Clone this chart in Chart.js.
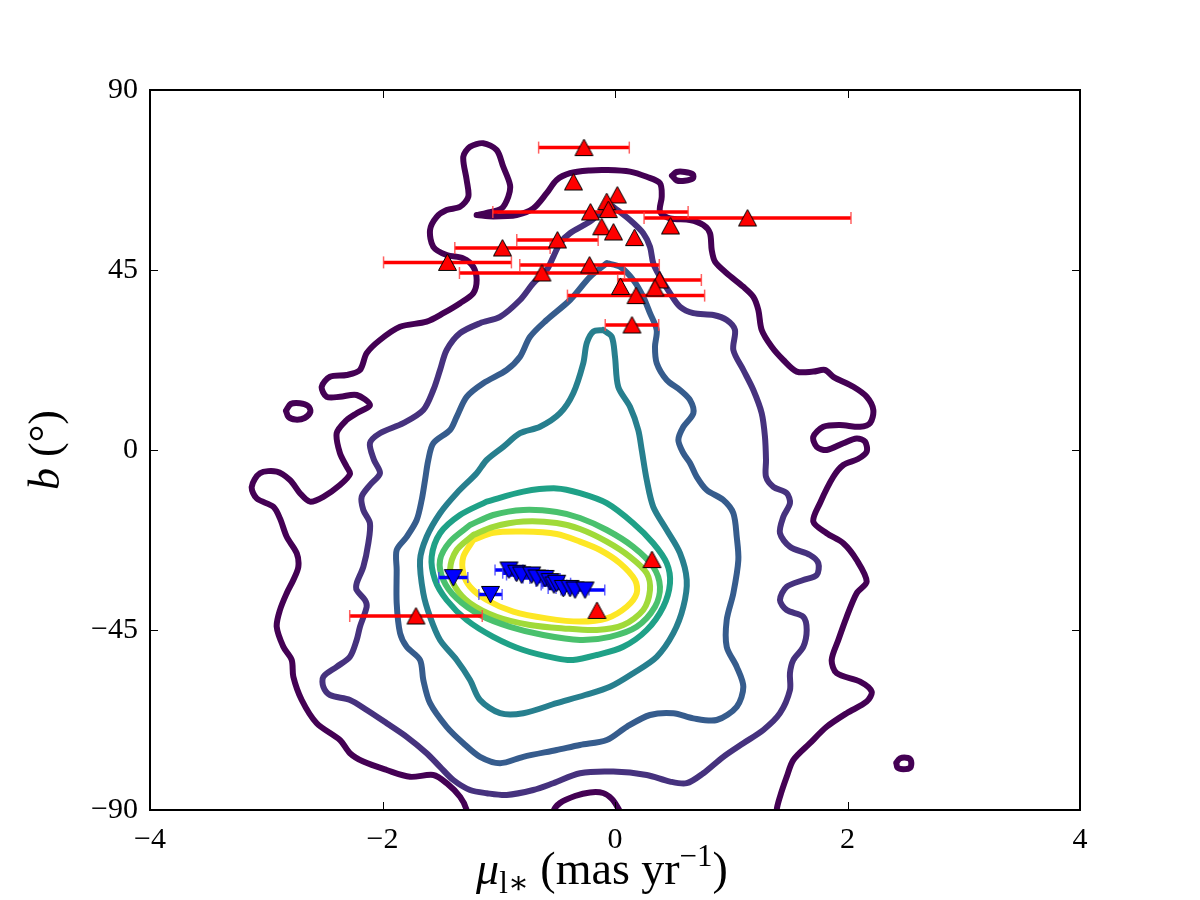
<!DOCTYPE html>
<html><head><meta charset="utf-8">
<script src="https://cdn.jsdelivr.net/npm/chart.js@4.4.1/dist/chart.umd.min.js"></script>
<style>html,body{margin:0;padding:0;background:#fff;}canvas{display:block;}</style>
</head><body>
<canvas id="c" width="1200" height="900"></canvas>
<script>
// ---------- data ----------
const xTicks = [-4, -2, 0, 2, 4];
const yTicks = [-90, -45, 0, 45, 90];

// red sample (up triangles): mu_l*, b, error in mu_l*
const redX = [-0.267,-0.357,0.02,-0.071,-0.058,-0.211,-0.114,-0.013,0.168,0.477,1.14,-0.495,-0.968,-1.441,-0.219,-0.628,0.383,0.047,0.344,0.181,0.146,0.318,-0.155,-1.712];
const redY = [75.6,67.0,63.75,62.1,60.1,59.5,55.8,54.5,53.1,56.0,58.0,52.5,50.5,46.9,46.25,44.25,42.5,40.9,40.5,38.6,31.25,-27.4,-40.1,-41.5];
const redErr = [0.39,0,0,0,0,0.84,0,0,0,0,0.89,0.35,0.41,0.55,0.60,0.71,0.36,0,0,0.59,0.23,0,0,0.57];

// blue sample (down triangles)
const blueX = [-1.391,-1.071,-0.912,-0.846,-0.803,-0.717,-0.671,-0.602,-0.559,-0.525,-0.502,-0.445,-0.387,-0.344,-0.258];
const blueY = [-31.9,-36.1,-30.0,-30.8,-31.25,-31.25,-32.0,-32.1,-32.9,-33.75,-33.3,-34.6,-34.6,-35.0,-35.0];
const blueErr = [0.125,0.10,0.12,0.12,0.13,0.14,0.12,0.13,0.12,0.11,0.12,0.13,0.12,0.12,0.17];

// density contours, level 1 (outermost) ... level 8 (innermost)
const contour1 = [[-1.19,58.75],[-1.104,59.3],[-0.975,60.4],[-0.918,63.3],[-0.903,66.25],[-0.961,70.8],[-1.018,75],[-1.133,76.7],[-1.247,75.8],[-1.305,73.3],[-1.276,67.5],[-1.262,63.3],[-1.333,60.8],[-1.448,60],[-1.534,58.3],[-1.591,55],[-1.563,50.8],[-1.448,48.75],[-1.305,47.9],[-1.219,45.8],[-1.19,42.5],[-1.219,39.2],[-1.333,36.7],[-1.477,34.2],[-1.62,32.1],[-1.849,30.8],[-2.022,27.5],[-2.136,24.2],[-2.194,20],[-2.308,18.75],[-2.452,18.3],[-2.523,15.8],[-2.48,13.3],[-2.366,13.3],[-2.222,13.75],[-2.108,11.25],[-2.222,9.2],[-2.308,7.5],[-2.394,4.2],[-2.366,-0.8],[-2.308,-4.2],[-2.28,-6],[-2.366,-8.75],[-2.509,-11.7],[-2.624,-12.9],[-2.71,-10.8],[-2.796,-7.5],[-2.91,-5.4],[-3.054,-5.8],[-3.125,-9.2],[-3.082,-12.1],[-2.939,-14.2],[-2.882,-17.1],[-2.824,-21.7],[-2.738,-25.8],[-2.724,-29.2],[-2.767,-32.5],[-2.824,-35.8],[-2.882,-40],[-2.91,-44.2],[-2.853,-49.2],[-2.781,-52.5],[-2.767,-56.7],[-2.695,-62.5],[-2.566,-68.3],[-2.366,-72.5],[-2.28,-75.8],[-2.165,-77.9],[-1.964,-80],[-1.763,-81.7],[-1.563,-81.25],[-1.448,-83.3],[-1.333,-86.7],[-1.276,-90],[-1.247,-95],[1.391,-95],[1.391,-90],[1.419,-86.7],[1.477,-81.7],[1.534,-77.5],[1.677,-73.3],[1.821,-69.2],[1.993,-65.8],[2.165,-62.9],[2.208,-60.4],[2.108,-57.9],[1.907,-55.8],[1.864,-52.5],[1.921,-47.5],[1.993,-41.7],[2.079,-35.8],[2.165,-32.9],[2.079,-27.5],[1.964,-23.3],[1.821,-20.8],[1.706,-17.9],[1.763,-13.3],[1.878,-6.7],[1.964,-3.75],[2.09,-2.25],[2.165,-0.4],[2.151,2.1],[2.079,2.9],[1.964,1.7],[1.821,0],[1.735,0.8],[1.706,3.3],[1.792,5.8],[1.935,6.25],[2.108,5.8],[2.194,6.7],[2.222,10],[2.165,13.3],[2.05,15.8],[1.878,18.3],[1.806,20],[1.706,19.6],[1.563,19.6],[1.448,22.5],[1.348,25.8],[1.262,30],[1.233,35],[1.19,38.3],[1.104,40.8],[0.961,44.2],[0.86,47.1],[0.832,50],[0.817,54.2],[0.76,56.25],[0.645,57.5],[0.473,57.9],[0.387,59.6],[0.402,63.3],[0.387,66.7],[0.273,68.3],[0.129,69.6],[-0.071,70],[-0.215,69.9],[-0.387,69.2],[-0.502,67.5],[-0.588,64.2],[-0.703,60.4],[-0.846,58.75],[-1.047,58.4],[-1.19,58.75]];
const contour1Bottom = [[-0.55,-95],[-0.533,-90.5],[-0.473,-88.25],[-0.344,-86.5],[-0.215,-85.6],[-0.103,-85.75],[-0.026,-87.25],[0.026,-89.5],[0.052,-91.25],[0.06,-95],[-0.55,-95]];
const contour1IslandA = [[0.49,68.6],[0.53,69.5],[0.60,69.5],[0.67,68.9],[0.67,67.9],[0.60,67.3],[0.53,67.4],[0.49,68.6]];
const contour1IslandB = [[-2.83,9.8],[-2.79,11.5],[-2.71,11.7],[-2.64,11],[-2.62,9.6],[-2.67,8],[-2.75,7.6],[-2.81,8.3],[-2.83,9.8]];
const contour1IslandC = [[2.42,-78.2],[2.45,-77.1],[2.52,-77.0],[2.547,-77.8],[2.54,-79.4],[2.48,-79.8],[2.43,-79.4],[2.42,-78.2]];
const contour2 = [[-0.015,60.8],[0.129,57.5],[0.243,54.2],[0.301,50.8],[0.329,46.7],[0.387,43.3],[0.473,39.2],[0.559,35.8],[0.674,34.2],[0.846,33.75],[0.961,32.5],[1.032,30],[1.018,25],[1.104,20],[1.19,15],[1.262,9.2],[1.29,3.3],[1.299,-2.5],[1.299,-6.7],[1.362,-9.2],[1.477,-10.8],[1.505,-13.3],[1.448,-16.7],[1.419,-20.8],[1.505,-24.2],[1.677,-26.25],[1.749,-28.3],[1.735,-31.25],[1.62,-32.5],[1.477,-34.2],[1.419,-37.5],[1.477,-40],[1.62,-41.7],[1.649,-45],[1.62,-49.2],[1.534,-52.5],[1.505,-55.8],[1.505,-60],[1.419,-65.8],[1.276,-70],[1.104,-73.3],[0.932,-76.7],[0.76,-80.8],[0.617,-83.3],[0.473,-82.9],[0.273,-81.25],[-0.015,-80.4],[-0.301,-80.8],[-0.531,-83.3],[-0.703,-85],[-0.932,-86.25],[-1.104,-85.8],[-1.247,-85],[-1.391,-82.5],[-1.505,-79.2],[-1.62,-75.8],[-1.792,-71.7],[-1.964,-68.3],[-2.136,-65],[-2.28,-62.5],[-2.452,-61.25],[-2.509,-59.2],[-2.509,-56.7],[-2.394,-54.2],[-2.28,-51.7],[-2.222,-47.5],[-2.194,-44.2],[-2.136,-39.2],[-2.151,-37.5],[-2.222,-35],[-2.222,-33.3],[-2.165,-29.2],[-2.122,-23.3],[-2.108,-18.3],[-2.165,-15],[-2.179,-11.7],[-2.108,-8.75],[-2.022,-5.8],[-2.073,-2.5],[-2.108,1.7],[-2.022,4.2],[-1.821,6.7],[-1.649,10],[-1.563,15],[-1.505,20],[-1.448,25],[-1.333,29.2],[-1.161,31.7],[-0.989,33.3],[-0.817,37.5],[-0.703,41.7],[-0.588,45],[-0.531,48.3],[-0.473,51.7],[-0.387,54.2],[-0.215,57.1],[-0.129,59.2],[-0.015,60.8]];
const contour3 = [[-0.071,46.7],[0.043,45.8],[0.157,42.5],[0.243,38.3],[0.301,34.2],[0.359,30],[0.344,25.8],[0.359,21.7],[0.445,17.5],[0.559,15],[0.645,12.5],[0.674,9.2],[0.588,5.8],[0.545,2.5],[0.588,-0.8],[0.645,-3.25],[0.703,-6.7],[0.789,-10],[0.932,-12.5],[1.018,-15.8],[1.047,-21.7],[1.061,-27.5],[1.018,-35.8],[0.961,-42.5],[0.961,-49.2],[1.047,-54.2],[1.104,-59.2],[1.047,-64.2],[0.875,-67.5],[0.674,-67.1],[0.502,-65.8],[0.301,-66.25],[0.101,-69.2],[-0.071,-72.5],[-0.301,-73.75],[-0.502,-75],[-0.789,-76.7],[-0.989,-78.3],[-1.161,-76.7],[-1.305,-73.3],[-1.448,-69.2],[-1.591,-63.3],[-1.649,-57.5],[-1.677,-52.5],[-1.792,-49.2],[-1.849,-45.8],[-1.878,-38.3],[-1.878,-30],[-1.878,-25],[-1.792,-21.7],[-1.706,-17.5],[-1.663,-12.5],[-1.634,-7.5],[-1.606,-2.5],[-1.563,1.7],[-1.419,5],[-1.362,8.3],[-1.276,13.3],[-1.133,16.7],[-0.932,20],[-0.817,23.3],[-0.731,28.3],[-0.588,32.5],[-0.387,37.5],[-0.215,43.3],[-0.071,46.7]];
const contour4 = [[-0.101,30],[-0.028,28.3],[0,23.3],[0.028,15.8],[0.129,10.8],[0.2,5],[0.23,0],[0.273,-7.5],[0.329,-14.2],[0.445,-20],[0.559,-25.8],[0.617,-32.5],[0.588,-39.2],[0.502,-45.8],[0.359,-51.7],[0.157,-55.8],[-0.043,-59.2],[-0.258,-61.25],[-0.502,-63.3],[-0.789,-65.8],[-0.989,-65.8],[-1.161,-62.5],[-1.247,-57.5],[-1.362,-52.5],[-1.505,-47.5],[-1.591,-41.7],[-1.649,-35.8],[-1.677,-27.5],[-1.62,-21.7],[-1.505,-15.8],[-1.362,-10.8],[-1.19,-5.8],[-1.104,-2.5],[-0.961,0.8],[-0.817,4.2],[-0.645,5.8],[-0.473,9.2],[-0.359,14.2],[-0.273,21.7],[-0.243,26.7],[-0.187,29.6],[-0.101,30]];
const contour5 = [[-1.104,-12.9],[-0.789,-10.4],[-0.502,-9.6],[-0.301,-10.8],[-0.071,-13.3],[0.157,-18.3],[0.329,-23.3],[0.445,-28.3],[0.473,-33.3],[0.415,-39.2],[0.273,-45],[0.071,-49.2],[-0.157,-51.25],[-0.361,-52.5],[-0.502,-52.1],[-0.789,-50],[-1.047,-46.7],[-1.276,-42.5],[-1.448,-37.5],[-1.548,-32.5],[-1.577,-26.7],[-1.505,-20.8],[-1.333,-16.25],[-1.104,-12.9]];
const contour6 = [[-1.247,-18.75],[-1.047,-16.25],[-0.789,-15],[-0.502,-15.5],[-0.301,-17],[-0.071,-20],[0.157,-24.2],[0.329,-29.2],[0.387,-34.2],[0.344,-39.2],[0.187,-44.2],[-0.043,-46.7],[-0.301,-47.5],[-0.617,-46.25],[-0.903,-44.2],[-1.161,-41.25],[-1.362,-37.1],[-1.477,-32.5],[-1.505,-27.5],[-1.419,-22.9],[-1.247,-18.75]];
const contour7 = [[-1.219,-21.25],[-1.047,-19.2],[-0.789,-17.9],[-0.502,-18.25],[-0.301,-19.75],[-0.071,-22.9],[0.129,-26.7],[0.273,-30.8],[0.301,-35],[0.243,-40],[0.071,-43.75],[-0.157,-45],[-0.445,-44.6],[-0.731,-43.75],[-1.018,-41.7],[-1.247,-38.3],[-1.376,-34.2],[-1.419,-30],[-1.362,-25],[-1.219,-21.25]];
const contour8 = [[-1.219,-22.5],[-1.047,-20.7],[-0.789,-20.4],[-0.502,-21],[-0.301,-22.9],[-0.129,-25],[0.043,-28.3],[0.172,-32.5],[0.187,-35.8],[0.101,-39.2],[-0.071,-42.1],[-0.301,-42.9],[-0.588,-42.1],[-0.875,-40.4],[-1.104,-37.5],[-1.247,-34.2],[-1.305,-30.8],[-1.305,-26.7],[-1.219,-22.5]];

// ---------- styles ----------
const levelColors = ['#440154','#46327e','#365c8d','#277f8e','#1fa187','#4ac16d','#a0da39','#fde725'];
const SERIF = '"Liberation Serif", "DejaVu Serif", serif';

function triangle(fill, down) {
  const c = document.createElement('canvas');
  c.width = 21; c.height = 19;
  const g = c.getContext('2d');
  g.beginPath();
  if (!down) { g.moveTo(10.5, 1); g.lineTo(19.5, 17.5); g.lineTo(1.5, 17.5); }
  else { g.moveTo(1.5, 1.5); g.lineTo(19.5, 1.5); g.lineTo(10.5, 18); }
  g.closePath();
  g.fillStyle = fill; g.fill();
  g.lineWidth = 1; g.strokeStyle = '#000'; g.stroke();
  return c;
}
const upTri = triangle('#ff0000', false);
const downTri = triangle('#0000ff', true);

const toXY = arr => arr.map(p => ({x: p[0], y: p[1]}));
function errData(xs, ys, es) {
  const d = [];
  xs.forEach((x, i) => {
    if (es[i] > 0) d.push({x: x - es[i], y: ys[i]}, {x: x + es[i], y: ys[i]}, {x: null, y: null});
  });
  return d;
}
function contourDS(arr, level) {
  return {
    data: toXY(arr), showLine: true, pointRadius: 0, borderColor: levelColors[level],
    borderWidth: 6, tension: 0.3, fill: false, clip: 0,
    borderJoinStyle: 'round', borderCapStyle: 'round', order: 10 + level
  };
}

const datasets = [
  {data: toXY(blueX.map((x, i) => [x, blueY[i]])), pointStyle: downTri, pointRadius: 9, showLine: false, order: 0},
  {data: errData(blueX, blueY, blueErr), showLine: true, borderColor: '#0000ff', borderWidth: 3.5,
   pointStyle: 'line', rotation: 90, pointRadius: 5.5, pointBorderColor: 'rgba(60,60,255,0.8)', pointBorderWidth: 1.5, order: 1},
  {data: toXY(redX.map((x, i) => [x, redY[i]])), pointStyle: upTri, pointRadius: 9, showLine: false, order: 2},
  {data: errData(redX, redY, redErr), showLine: true, borderColor: '#ff0000', borderWidth: 3.5,
   pointStyle: 'line', rotation: 90, pointRadius: 6, pointBorderColor: 'rgba(255,70,70,0.85)', pointBorderWidth: 1.5, order: 3},
  contourDS(contour8, 7), contourDS(contour7, 6), contourDS(contour6, 5), contourDS(contour5, 4),
  contourDS(contour4, 3), contourDS(contour3, 2), contourDS(contour2, 1),
  contourDS(contour1, 0), contourDS(contour1Bottom, 0), contourDS(contour1IslandA, 0),
  contourDS(contour1IslandB, 0), contourDS(contour1IslandC, 0)
];

const fmt = v => (v < 0 ? '\u2212' + Math.abs(v) : String(v));

const framePlugin = {
  id: 'frame',
  afterDatasetsDraw(chart) {
    const {ctx, chartArea: a, scales: {x, y}} = chart;
    ctx.save();
    ctx.strokeStyle = '#000';
    ctx.lineWidth = 1;
    ctx.beginPath();
    x.ticks.forEach(t => {
      const px = Math.round(x.getPixelForValue(t.value)) + 0.5;
      ctx.moveTo(px, a.bottom); ctx.lineTo(px, a.bottom - 8);
      ctx.moveTo(px, a.top); ctx.lineTo(px, a.top + 8);
    });
    y.ticks.forEach(t => {
      const py = Math.round(y.getPixelForValue(t.value)) + 0.5;
      ctx.moveTo(a.left, py); ctx.lineTo(a.left + 8, py);
      ctx.moveTo(a.right, py); ctx.lineTo(a.right - 8, py);
    });
    ctx.stroke();
    ctx.lineWidth = 2;
    ctx.strokeRect(a.left, a.top, a.right - a.left, a.bottom - a.top);
    ctx.restore();
  },
  afterDraw(chart) {
    const {ctx, chartArea: a} = chart;
    ctx.save();
    ctx.fillStyle = '#000';
    ctx.textBaseline = 'alphabetic';
    const parts = [
      {t: '\u03bc', f: `italic 46px ${SERIF}`, dy: 0},
      {t: 'l\u2217', f: `31px ${SERIF}`, dy: 9},
      {t: ' (mas yr', f: `46px ${SERIF}`, dy: 0},
      {t: '\u22121', f: `31px ${SERIF}`, dy: -18},
      {t: ')', f: `46px ${SERIF}`, dy: 0}
    ];
    let w = 0;
    parts.forEach(p => { ctx.font = p.f; p.w = ctx.measureText(p.t).width; w += p.w; });
    let cx = 602 - w / 2;
    parts.forEach(p => { ctx.font = p.f; ctx.fillText(p.t, cx, 884 + p.dy); cx += p.w; });

    const yp = [
      {t: 'b', f: `italic 44px ${SERIF}`},
      {t: ' (\u00b0)', f: `44px ${SERIF}`}
    ];
    let wy = 0;
    yp.forEach(p => { ctx.font = p.f; p.w = ctx.measureText(p.t).width; wy += p.w; });
    ctx.translate(44, (a.top + a.bottom) / 2);
    ctx.rotate(-Math.PI / 2);
    let ly = -wy / 2;
    yp.forEach(p => { ctx.font = p.f; ctx.fillText(p.t, ly, 15); ly += p.w; });
    ctx.restore();
  }
};

new Chart(document.getElementById('c'), {
  type: 'scatter',
  data: {datasets},
  options: {
    responsive: false,
    animation: false,
    devicePixelRatio: 1,
    events: [],
    layout: {padding: {left: 0, top: 90, right: 120, bottom: 0}},
    elements: {line: {capBezierPoints: false}},
    plugins: {legend: {display: false}, tooltip: {enabled: false}},
    scales: {
      x: {
        type: 'linear', min: -4, max: 4,
        afterBuildTicks: s => { s.ticks = xTicks.map(v => ({value: v})); },
        afterFit: s => { s.height = 90; },
        grid: {display: false, drawTicks: false}, border: {display: false},
        ticks: {color: '#000', padding: 12, autoSkip: false, maxRotation: 0,
                font: {family: SERIF, size: 30}, callback: v => fmt(v)}
      },
      y: {
        type: 'linear', min: -90, max: 90,
        afterBuildTicks: s => { s.ticks = yTicks.map(v => ({value: v})); },
        afterFit: s => { s.width = 150; },
        grid: {display: false, drawTicks: false}, border: {display: false},
        ticks: {color: '#000', padding: 12, autoSkip: false,
                font: {family: SERIF, size: 30}, callback: v => fmt(v)}
      }
    }
  },
  plugins: [framePlugin]
});
</script>
</body></html>
